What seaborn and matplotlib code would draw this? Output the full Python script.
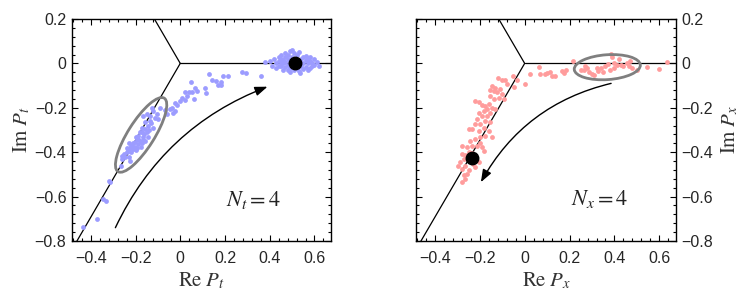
import numpy as np
import pandas as pd
import matplotlib
matplotlib.use("Agg")
import matplotlib.pyplot as plt
import seaborn as sns
from matplotlib.patches import Ellipse
from matplotlib.ticker import AutoMinorLocator

# ---------------- data ----------------
# Left panel: Polyakov loop P_t samples (Re, Im)
pt_re = [0.38, 0.40, 0.41, 0.42, 0.43, 0.43, 0.44, 0.44, 0.45, 0.45, 0.45, 0.46, 0.46, 0.46,
         0.47, 0.47, 0.47, 0.48, 0.48, 0.48, 0.48, 0.49, 0.49, 0.49, 0.50, 0.50, 0.50, 0.51,
         0.51, 0.52, 0.52, 0.53, 0.53, 0.53, 0.54, 0.54, 0.55, 0.55, 0.55, 0.56, 0.56, 0.56,
         0.57, 0.57, 0.57, 0.58, 0.58, 0.58, 0.59, 0.59, 0.60, 0.60, 0.61, 0.62, 0.47, 0.51,
         0.535, 0.49, 0.44, 0.45, 0.505, 0.525,
         0.36, 0.296, 0.274, 0.214, 0.192, 0.129, 0.159, 0.143, 0.182, 0.170, 0.180, 0.046,
         0.066, 0.073, 0.110, 0.115, 0.021, 0.039, 0.051, 0.028, 0.009, 0.000, 0.021, 0.063,
         -0.024, -0.016, -0.036, -0.046, -0.068, -0.061, -0.031, -0.024,
         -0.165, -0.150, -0.135, -0.121, -0.105, -0.113, -0.135, -0.098, -0.158, -0.143,
         -0.158, -0.172, -0.150, -0.188, -0.165, -0.143, -0.195, -0.180, -0.158, -0.202,
         -0.188, -0.172, -0.217, -0.202, -0.225, -0.210, -0.195, -0.232, -0.239, -0.220,
         -0.262, -0.247, -0.225, -0.265, -0.091, -0.128,
         -0.13, -0.12, -0.14, -0.17, -0.16, -0.18, -0.19, -0.20, -0.21, -0.22, -0.23, -0.24,
         -0.25, -0.23, -0.26, -0.20, -0.175, -0.165,
         -0.317, -0.344, -0.333, -0.373, -0.436, -0.314]
pt_im = [0.005, 0.01, -0.01, 0.02, 0.00, -0.02, 0.03, 0.01, -0.01, 0.02, 0.04, 0.00, -0.03, 0.015,
         0.03, -0.015, 0.005, 0.02, -0.005, 0.04, -0.03, 0.055, 0.01, -0.02, 0.03, -0.01, 0.06, 0.02,
         -0.03, 0.04, -0.02, 0.05, 0.01, -0.035, 0.02, -0.01, 0.03, -0.025, 0.00, 0.015, -0.015, 0.035,
         0.00, -0.03, 0.025, 0.01, -0.02, 0.03, 0.00, -0.01, 0.02, -0.005, 0.005, -0.01, 0.045, 0.045,
         -0.045, -0.04, -0.01, 0.005, 0.0, 0.0,
         -0.058, -0.043, -0.039, -0.058, -0.058, -0.046, -0.080, -0.077, -0.083, -0.098, -0.098, -0.085,
         -0.110, -0.125, -0.113, -0.133, -0.128, -0.128, -0.128, -0.147, -0.158, -0.170, -0.167, -0.162,
         -0.177, -0.189, -0.200, -0.207, -0.211, -0.229, -0.222, -0.214,
         -0.237, -0.229, -0.237, -0.214, -0.229, -0.247, -0.259, -0.251, -0.266, -0.281,
         -0.296, -0.311, -0.311, -0.326, -0.330, -0.333, -0.341, -0.348, -0.348, -0.356,
         -0.363, -0.360, -0.371, -0.375, -0.381, -0.385, -0.381, -0.393, -0.400, -0.400,
         -0.415, -0.423, -0.438, -0.460, -0.199, -0.199,
         -0.27, -0.29, -0.30, -0.29, -0.32, -0.31, -0.34, -0.33, -0.36, -0.37, -0.36, -0.38,
         -0.41, -0.42, -0.43, -0.39, -0.375, -0.345,
         -0.530, -0.613, -0.619, -0.700, -0.735, -0.534]

# Right panel: Polyakov loop P_x samples (Re, Im)
px_re = [0.003, 0.022, 0.063, 0.070, 0.092, 0.100, 0.115, 0.122, 0.137, 0.167, 0.174, 0.182,
         0.216, 0.249, 0.263, 0.278, 0.286, 0.301, 0.311, 0.326, 0.341, 0.356, 0.371, 0.383,
         0.397, 0.412, 0.427, 0.454, 0.464, 0.479, 0.499, 0.546, 0.598, 0.636,
         0.32, 0.35, 0.40, 0.42, 0.44, 0.38, 0.27, 0.47, 0.39,
         -0.119, -0.101, -0.086, -0.054, -0.034, -0.049, -0.079, -0.146, -0.131, -0.153, -0.138,
         -0.123, -0.108, -0.101, -0.116, -0.094, -0.153, -0.138,
         -0.220, -0.205, -0.190, -0.175, -0.161, -0.146, -0.168, -0.183, -0.205, -0.153, -0.131,
         -0.168, -0.190, -0.212, -0.175, -0.198, -0.220, -0.153, -0.183, -0.235, -0.250, -0.205,
         -0.161, -0.146, -0.175, -0.198, -0.220, -0.242, -0.279, -0.257, -0.235, -0.212, -0.198,
         -0.183, -0.190,
         -0.279, -0.272, -0.287, -0.265, -0.279, -0.250, -0.257, -0.272, -0.228, -0.220,
         -0.279, -0.265, -0.205, -0.265, -0.250, -0.235, -0.295]
px_im = [-0.095, -0.050, -0.018, -0.050, -0.048, -0.043, -0.039, -0.055, -0.055, -0.033, -0.043, -0.028,
         0.012, -0.028, -0.028, -0.021, -0.039, -0.046, -0.054, -0.036, -0.021, -0.013, -0.003, 0.042,
         0.001, -0.009, -0.006, 0.001, -0.013, -0.021, -0.028, -0.018, -0.024, 0.006,
         -0.02, -0.04, -0.02, 0.02, -0.01, -0.03, -0.01, 0.01, 0.03,
         -0.066, -0.073, -0.076, -0.058, -0.073, -0.106, -0.095, -0.103, -0.110, -0.121, -0.125,
         -0.129, -0.117, -0.140, -0.155, -0.162, -0.147, -0.162,
         -0.170, -0.174, -0.189, -0.192, -0.184, -0.200, -0.207, -0.214, -0.222, -0.222, -0.207,
         -0.237, -0.237, -0.251, -0.259, -0.274, -0.274, -0.266, -0.289, -0.296, -0.296, -0.304,
         -0.304, -0.333, -0.326, -0.333, -0.341, -0.348, -0.374, -0.378, -0.371, -0.371, -0.359,
         -0.393, -0.378,
         -0.408, -0.430, -0.445, -0.460, -0.475, -0.482, -0.497, -0.504, -0.452, -0.467,
         -0.534, -0.522, -0.445, -0.412, -0.397, -0.404, -0.460]

# mean values (large black dots)
mean_t = (0.515, 0.0)
mean_x = (-0.235, -0.427)

xticks = [-0.4, -0.2, 0, 0.2, 0.4, 0.6]
yticks = [0.2, 0, -0.2, -0.4, -0.6, -0.8]

# ---------------- styling ----------------
sns.set_style("white")
plt.rcParams['font.family'] = ['Liberation Sans', 'DejaVu Sans']
plt.rcParams['mathtext.fontset'] = 'stix'
plt.rcParams['axes.unicode_minus'] = True

fig = plt.figure(figsize=(7.47, 2.93), dpi=100)
axL = fig.add_axes([72 / 747, 52 / 293, 259 / 747, 222 / 293])
axR = fig.add_axes([416 / 747, 52 / 293, 260 / 747, 222 / 293])

blue = '#9c9cff'
red = '#ff9c9c'

df_t = pd.DataFrame({'re': pt_re, 'im': pt_im})
df_x = pd.DataFrame({'re': px_re, 'im': px_im})

sns.scatterplot(data=df_t, x='re', y='im', ax=axL, color=blue, s=12, linewidth=0, zorder=2)
sns.scatterplot(data=df_x, x='re', y='im', ax=axR, color=red, s=12, linewidth=0, zorder=2)


def fmt(v):
    if abs(v) < 1e-9:
        return '0'
    return ('\u2212' if v < 0 else '') + ('%g' % abs(v))


for ax in (axL, axR):
    # Z3 center lines
    for ang in (0.0, 2 * np.pi / 3, -2 * np.pi / 3):
        ax.plot([0, 2 * np.cos(ang)], [0, 2 * np.sin(ang)], color='k', lw=0.9, zorder=1)
    ax.set_xlim(-0.484, 0.674)
    ax.set_ylim(-0.8, 0.2)
    ax.set_xticks(xticks)
    ax.set_yticks(yticks)
    ax.set_xticklabels([fmt(v) for v in xticks], fontsize=11.5)
    ax.set_yticklabels([fmt(v) for v in yticks], fontsize=11.5)
    ax.xaxis.set_minor_locator(AutoMinorLocator(5))
    ax.yaxis.set_minor_locator(AutoMinorLocator(5))
    ax.tick_params(which='both', direction='in', top=True, bottom=True, left=True, right=True,
                   color='k', width=0.8)
    ax.tick_params(which='major', length=4.5)
    ax.tick_params(which='minor', length=2.5)
    ax.tick_params(axis='x', which='major', pad=7)
    ax.tick_params(axis='y', which='major', pad=4)
    for sp in ax.spines.values():
        sp.set_color('k')
        sp.set_linewidth(1.0)

axL.plot([mean_t[0]], [mean_t[1]], 'o', color='k', ms=9, zorder=4)
axR.plot([mean_x[0]], [mean_x[1]], 'o', color='k', ms=9, zorder=4)

axL.add_patch(Ellipse((-0.175, -0.322), width=0.39, height=0.118, angle=58,
                      fill=False, ec='#7f7f7f', lw=2.0, zorder=3))
axR.add_patch(Ellipse((0.368, -0.017), width=0.295, height=0.112, angle=4,
                      fill=False, ec='#7f7f7f', lw=2.0, zorder=3))

arrow_style = '-|>,head_length=0.75,head_width=0.28'
axL.annotate('', xy=(0.39, -0.105), xytext=(-0.29, -0.74),
             arrowprops=dict(arrowstyle=arrow_style,
                             connectionstyle='arc3,rad=-0.2', color='k', lw=1.0,
                             shrinkA=0, shrinkB=0, mutation_scale=10))
axR.annotate('', xy=(-0.195, -0.535), xytext=(0.385, -0.09),
             arrowprops=dict(arrowstyle=arrow_style,
                             connectionstyle='arc3,rad=0.22', color='k', lw=1.0,
                             shrinkA=0, shrinkB=0, mutation_scale=10))

axL.text(0.325, -0.615, r'$N_t=4$', fontsize=16, ha='center', va='center', color='#222222')
axR.text(0.335, -0.61, r'$N_x=4$', fontsize=16, ha='center', va='center', color='#222222')

axL.set_xlabel(r'$\mathrm{Re}\;P_t$', fontsize=15, labelpad=3, color='#333333')
axL.set_ylabel(r'$\mathrm{Im}\;P_t$', fontsize=15, labelpad=2, color='#333333')
axR.set_xlabel(r'$\mathrm{Re}\;P_x$', fontsize=15, labelpad=3, color='#333333')
axR.set_ylabel(r'$\mathrm{Im}\;P_x$', fontsize=15, labelpad=4, color='#333333')
axR.yaxis.set_label_position('right')
axR.yaxis.tick_right()
axR.tick_params(which='both', left=True, right=True, labelleft=False, labelright=True)

fig.savefig('out.png', dpi=100)
